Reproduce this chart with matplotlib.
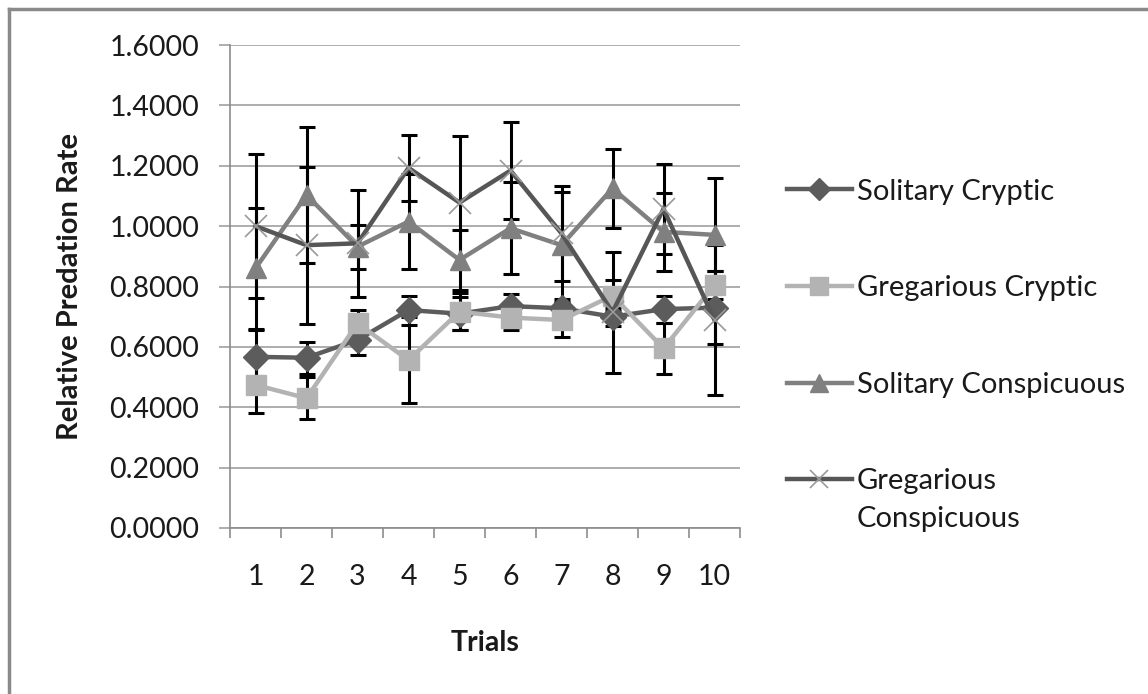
import matplotlib
matplotlib.use("Agg")
import matplotlib.pyplot as plt
from matplotlib.lines import Line2D
import numpy as np

trials = ["1", "2", "3", "4", "5", "6", "7", "8", "9", "10"]
series_names = ["Solitary Cryptic", "Gregarious Cryptic", "Solitary Conspicuous", "Gregarious\nConspicuous"]

solitary_cryptic = [0.567, 0.564, 0.623, 0.722, 0.710, 0.735, 0.728, 0.700, 0.725, 0.730]
solitary_cryptic_err = [0.090, 0.053, 0.050, 0.048, 0.055, 0.040, 0.020, 0.030, 0.045, 0.120]
gregarious_cryptic = [0.474, 0.430, 0.678, 0.556, 0.717, 0.697, 0.689, 0.770, 0.595, 0.805]
gregarious_cryptic_err = [0.094, 0.070, 0.045, 0.143, 0.060, 0.040, 0.055, 0.050, 0.085, 0.047]
solitary_conspicuous = [0.860, 1.103, 0.932, 1.015, 0.888, 0.993, 0.937, 1.125, 0.981, 0.971]
solitary_conspicuous_err = [0.200, 0.225, 0.073, 0.158, 0.100, 0.153, 0.177, 0.130, 0.130, 0.190]
gregarious_conspicuous = [1.000, 0.937, 0.943, 1.193, 1.078, 1.184, 0.976, 0.715, 1.057, 0.689]
gregarious_conspicuous_err = [0.238, 0.260, 0.177, 0.110, 0.220, 0.160, 0.158, 0.200, 0.150, 0.250]

yticks = [0.0, 0.2, 0.4, 0.6, 0.8, 1.0, 1.2, 1.4, 1.6]

plt.rcParams['font.family'] = ['Lato', 'DejaVu Sans']

fig = plt.figure(figsize=(11.48, 6.94), dpi=100)
ax = fig.add_axes([230/1148, 1-528/694, 510/1148, 483/694])

x = np.arange(len(trials)) + 0.5

data = [
    (solitary_cryptic, solitary_cryptic_err, '#5c5c5c', 'D', 13, dict()),
    (gregarious_cryptic, gregarious_cryptic_err, '#b3b3b3', 's', 15, dict()),
    (solitary_conspicuous, solitary_conspicuous_err, '#808080', '^', 15, dict()),
    (gregarious_conspicuous, gregarious_conspicuous_err, '#565656', 'x', 16, dict(markeredgecolor='#9a9a9a', markeredgewidth=1.2)),
]

for vals, errs, col, mk, ms, extra in data:
    ax.errorbar(x, vals, yerr=errs, fmt='none', ecolor='black', elinewidth=2.2,
                capsize=5.8, capthick=2.2, zorder=2)

handles = []
for i, (vals, errs, col, mk, ms, extra) in enumerate(data):
    kw = dict(markerfacecolor=col, markeredgecolor=col)
    kw.update(extra)
    h, = ax.plot(x, vals, color=col, lw=3.2, marker=mk, markersize=ms,
                 zorder=3 + i, solid_joinstyle='miter', **kw)
    handles.append(h)

ax.set_xlim(0, 10)
ax.set_ylim(0, 1.6)
ax.set_yticks(yticks)
ax.set_yticklabels([f"{v:.4f}" for v in yticks])
ax.yaxis.grid(True, color='#a0a0a0', lw=1.2)
ax.set_axisbelow(True)

ax.set_xticks(np.arange(0, 11))
ax.set_xticklabels([])
ax.set_xticks(x, minor=True)
ax.set_xticklabels(trials, minor=True)
ax.tick_params(axis='x', which='major', length=7, width=1.2, color='#8c8c8c', direction='out')
ax.tick_params(axis='x', which='minor', length=0, pad=26, labelsize=20.5, labelcolor='#1a1a1a')
ax.tick_params(axis='y', length=8, width=1.2, color='#a0a0a0', direction='out', pad=14,
               labelsize=20.5, labelcolor='#1a1a1a')

for s in ['top', 'right']:
    ax.spines[s].set_visible(False)
for s in ['left', 'bottom']:
    ax.spines[s].set_color('#8c8c8c')
    ax.spines[s].set_linewidth(1.2)

ax.set_xlabel("Trials", fontsize=20.5, fontweight='bold', labelpad=29, color='#1a1a1a')
ax.set_ylabel("Relative Predation Rate", fontsize=21, fontweight='bold', labelpad=19, color='#1a1a1a')

# legend: multi-line last label is split so its marker sits on the first line, as in the original
first_lines = [n.split("\n")[0] for n in series_names]
leg = ax.legend(handles, first_lines, loc='upper left', bbox_to_anchor=(772/1148, 1-164/694),
                bbox_transform=fig.transFigure, frameon=False, fontsize=21, markerscale=0.85,
                handlelength=2.25, handletextpad=0.15, labelspacing=2.42, borderpad=0)
for t in leg.get_texts():
    t.set_color('#1a1a1a')
for name, t in zip(series_names, leg.get_texts()):
    rest = name.split("\n")[1:]
    for k, line in enumerate(rest):
        ax.annotate(line, xy=(0, 0), xycoords=t, xytext=(0, -38 * (k + 1)),
                    textcoords='offset pixels', fontsize=21, color='#1a1a1a',
                    ha='left', va='bottom', zorder=20, annotation_clip=False)

# outer chart border (left and top)
fig.add_artist(Line2D([8.5/1148, 8.5/1148], [0, 1-9/694], transform=fig.transFigure, color='#8a8a8a', lw=2.5))
fig.add_artist(Line2D([8.5/1148, 1], [1-9/694, 1-9/694], transform=fig.transFigure, color='#8a8a8a', lw=2.5))

fig.savefig("out.png", dpi=100)
